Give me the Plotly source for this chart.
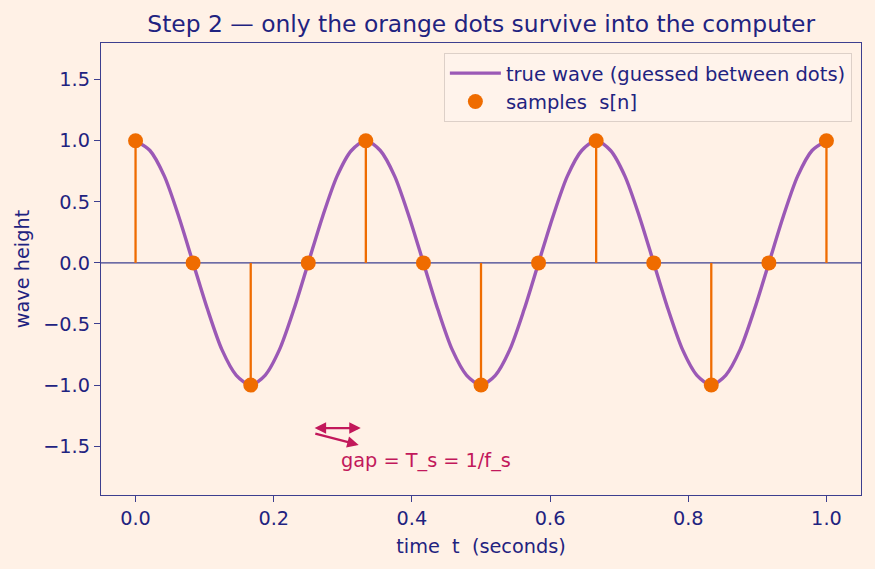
import plotly.graph_objects as go

# ---- data ----
sample_t = [0.0, 0.0833, 0.1667, 0.25, 0.3333, 0.4167, 0.5, 0.5833, 0.6667, 0.75, 0.8333, 0.9167, 1.0]
sample_s = [1, 0, -1, 0, 1, 0, -1, 0, 1, 0, -1, 0, 1]
# true wave heights every 1/48 s
wave_t = [0.0, 0.0208, 0.0417, 0.0625, 0.0833, 0.1042, 0.125, 0.1458, 0.1667, 0.1875, 0.2083, 0.2292,
          0.25, 0.2708, 0.2917, 0.3125, 0.3333, 0.3542, 0.375, 0.3958, 0.4167, 0.4375, 0.4583, 0.4792,
          0.5, 0.5208, 0.5417, 0.5625, 0.5833, 0.6042, 0.625, 0.6458, 0.6667, 0.6875, 0.7083, 0.7292,
          0.75, 0.7708, 0.7917, 0.8125, 0.8333, 0.8542, 0.875, 0.8958, 0.9167, 0.9375, 0.9583, 0.9792, 1.0]
wave_y = [1.0, 0.92, 0.71, 0.38, 0.0, -0.38, -0.71, -0.92,
          -1.0, -0.92, -0.71, -0.38, 0.0, 0.38, 0.71, 0.92,
          1.0, 0.92, 0.71, 0.38, 0.0, -0.38, -0.71, -0.92,
          -1.0, -0.92, -0.71, -0.38, 0.0, 0.38, 0.71, 0.92,
          1.0, 0.92, 0.71, 0.38, 0.0, -0.38, -0.71, -0.92,
          -1.0, -0.92, -0.71, -0.38, 0.0, 0.38, 0.71, 0.92, 1.0]
x_ticks = [0.0, 0.2, 0.4, 0.6, 0.8, 1.0]
y_ticks = [-1.5, -1.0, -0.5, 0.0, 0.5, 1.0, 1.5]
X_RANGE = [-0.05, 1.05]
Y_RANGE = [-1.9, 1.8]

BG = "#fff1e6"
TXT = "#1f2380"
SPINE = "#3d3f8f"
PURPLE = "#9b59b6"
ORANGE = "#ef6c00"
CRIMSON = "#c2185b"
FONT = "DejaVu Sans"
FS = 19.3

fig = go.Figure()

# true wave
fig.add_trace(go.Scatter(
    x=wave_t, y=wave_y, mode="lines",
    line=dict(color=PURPLE, width=3.4, shape="spline", smoothing=0.8),
    name="true wave (guessed between dots)"))

# zero line (drawn over the wave)
fig.add_trace(go.Scatter(
    x=X_RANGE, y=[0, 0], mode="lines",
    line=dict(color=SPINE, width=1.4), showlegend=False, hoverinfo="skip"))

# stems
stem_x, stem_y = [], []
for t, s in zip(sample_t, sample_s):
    stem_x += [t, t, None]
    stem_y += [0, s, None]
fig.add_trace(go.Scatter(
    x=stem_x, y=stem_y, mode="lines",
    line=dict(color=ORANGE, width=2.3), showlegend=False, hoverinfo="skip"))

# sample dots
fig.add_trace(go.Scatter(
    x=sample_t, y=sample_s, mode="markers",
    marker=dict(color=ORANGE, size=15, line=dict(width=0)),
    name="samples\u00a0\u00a0s[n]"))

# gap arrows
fig.add_annotation(x=0.326, y=-1.352, ax=0.257, ay=-1.352, xref="x", yref="y",
                   axref="x", ayref="y", text="", showarrow=True,
                   arrowhead=2, arrowside="end+start", arrowsize=1.0,
                   arrowwidth=2.3, arrowcolor=CRIMSON)
fig.add_annotation(x=0.323, y=-1.49, ax=0.258, ay=-1.395, xref="x", yref="y",
                   axref="x", ayref="y", text="", showarrow=True,
                   arrowhead=2, arrowsize=1.0, arrowwidth=2.3,
                   arrowcolor=CRIMSON)
fig.add_annotation(x=0.295, y=-1.615, xref="x", yref="y", text="gap = T_s = 1/f_s",
                   showarrow=False, xanchor="left", yanchor="middle",
                   font=dict(family=FONT, size=FS, color=CRIMSON))

axis_common = dict(
    showline=True, linecolor=SPINE, linewidth=1.3, mirror=True,
    ticks="outside", ticklen=6, tickwidth=1.3, tickcolor=SPINE,
    showgrid=False, zeroline=False,
    tickfont=dict(family=FONT, size=FS, color=TXT),
)

fig.update_layout(
    width=875, height=569,
    paper_bgcolor=BG, plot_bgcolor=BG,
    margin=dict(l=101, r=14, t=43, b=74),
    title=dict(text="Step 2 — only the orange dots survive into the computer",
               x=0.55, xanchor="center", y=0.958, yanchor="middle",
               font=dict(family=FONT, size=23.4, color=TXT)),
    xaxis=dict(range=X_RANGE, tickvals=x_ticks,
               ticktext=[f"{v:.1f}" for v in x_ticks],
               title=dict(text="time\u00a0\u00a0t\u00a0\u00a0(seconds)", standoff=10,
                          font=dict(family=FONT, size=FS, color=TXT)),
               **axis_common),
    yaxis=dict(range=Y_RANGE, tickvals=y_ticks,
               ticktext=[f"{v:.1f}".replace("-", "\u2212") for v in y_ticks],
               title=dict(text="wave height", standoff=8,
                          font=dict(family=FONT, size=FS, color=TXT)),
               **axis_common),
    legend=dict(x=0.988, y=0.978, xanchor="right", yanchor="top",
                bgcolor="rgba(255,243,235,0.9)", bordercolor="#ddd0c8", borderwidth=1,
                font=dict(family=FONT, size=19.5, color=TXT),
                itemwidth=51, tracegroupgap=0),
    showlegend=True,
)

fig.write_html("out.html")
